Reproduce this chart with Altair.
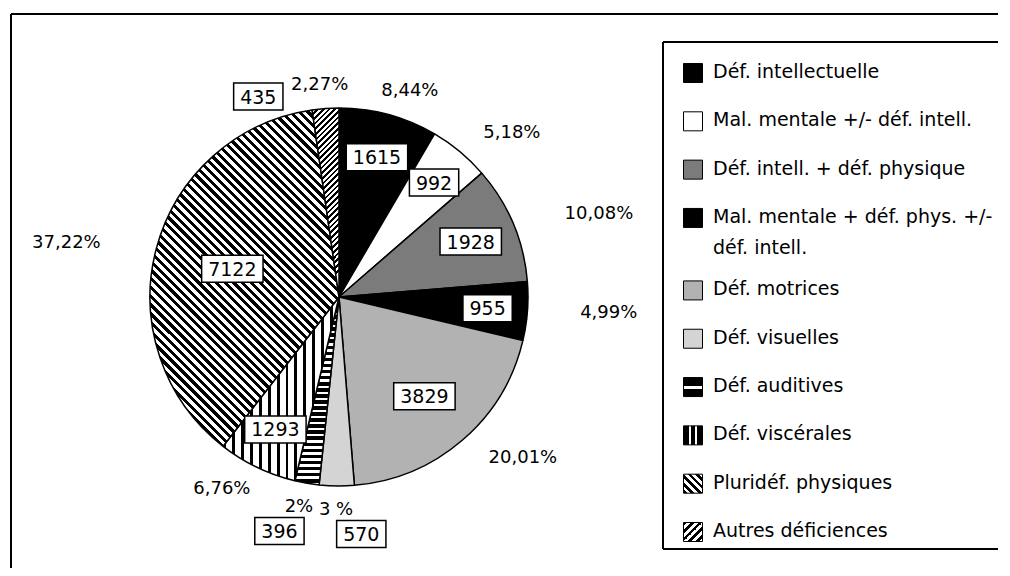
import altair as alt
import pandas as pd

# ---------------- data ----------------
categories = [
    "Déf. intellectuelle",
    "Mal. mentale +/- déf. intell.",
    "Déf. intell. + déf. physique",
    "Mal. mentale + déf. phys. +/- déf. intell.",
    "Déf. motrices",
    "Déf. visuelles",
    "Déf. auditives",
    "Déf. viscérales",
    "Pluridéf. physiques",
    "Autres déficiences",
]
legend_labels = [
    "Déf. intellectuelle",
    "Mal. mentale +/- déf. intell.",
    "Déf. intell. + déf. physique",
    "Mal. mentale + déf. phys. +/-\ndéf. intell.",
    "Déf. motrices",
    "Déf. visuelles",
    "Déf. auditives",
    "Déf. viscérales",
    "Pluridéf. physiques",
    "Autres déficiences",
]
values = [1615, 992, 1928, 955, 3829, 570, 396, 1293, 7122, 435]
pct_labels = ["8,44%", "5,18%", "10,08%", "4,99%", "20,01%", "3 %", "2%", "6,76%", "37,22%", "2,27%"]

df = pd.DataFrame({
    "category": categories,
    "label": legend_labels,
    "value": values,
    "pct": pct_labels,
    "order": list(range(len(categories))),
})
# legend rows: a two-line label takes one and a half rows
slots, acc = [], 0.0
for lab in legend_labels:
    slots.append(acc)
    acc += 1 + 0.5 * (lab.count("\n"))
df["slot"] = slots

# ---------------- styles (hatch patterns as hard-stop gradients) ----------------
def stripes(n, frac, x1, y1, x2, y2, c1="black", c2="white"):
    stops = []
    for i in range(n):
        a, b, c = i / n, (i + frac) / n, (i + 1) / n
        stops += [
            {"offset": round(a, 5), "color": c1},
            {"offset": round(b, 5), "color": c1},
            {"offset": round(b, 5), "color": c2},
            {"offset": round(c, 5), "color": c2},
        ]
    return {"gradient": "linear", "x1": x1, "y1": y1, "x2": x2, "y2": y2, "stops": stops}


def bands(cuts, x1, y1, x2, y2):
    stops = []
    for a, b, col in cuts:
        stops += [{"offset": a, "color": col}, {"offset": b, "color": col}]
    return {"gradient": "linear", "x1": x1, "y1": y1, "x2": x2, "y2": y2, "stops": stops}


pie_styles = [
    "black",
    "white",
    "#7b7b7b",
    "black",
    "#b2b2b2",
    "#d4d4d4",
    stripes(31, 0.6, 0, 0, 0, 1),
    stripes(13, 0.33, 0, 0, 1, 0),
    stripes(90, 0.5, 0, 1, 1, -0.78),
    stripes(34, 0.5, 0, 0, 0.143, 1),
]
legend_styles = [
    "black",
    "white",
    "#7b7b7b",
    "black",
    "#b2b2b2",
    "#d4d4d4",
    bands([(0, 0.42, "black"), (0.42, 0.58, "white"), (0.58, 1, "black")], 0, 0, 0, 1),
    bands([(0, 0.27, "black"), (0.27, 0.39, "white"), (0.39, 0.61, "black"),
           (0.61, 0.73, "white"), (0.73, 1, "black")], 0, 0, 1, 0),
    stripes(5, 0.5, 0, 1, 1, 0),
    stripes(5, 0.5, 0, 0, 1, 1),
]


def fill_condition(styles):
    w = None
    for cat, st in zip(categories, styles):
        pred = alt.datum.category == cat
        w = alt.when(pred).then(alt.value(st)) if w is None else w.when(pred).then(alt.value(st))
    return w.otherwise(alt.value("white"))


# ---------------- layout constants ----------------
W, H = 990, 560
CX, CY, R = 331, 289, 189
LR = 213
FONT = "DejaVu Sans"

base = (
    alt.Chart(df)
    .transform_joinaggregate(total="sum(value)")
    .transform_window(
        window=[
            alt.WindowFieldDef(op="sum", field="value", **{"as": "cum"}),
            alt.WindowFieldDef(op="lag", field="value", **{"as": "prev"}),
        ],
        sort=[alt.SortField("order", order="ascending")],
        frame=[None, 0],
    )
    .transform_calculate(
        share="datum.value / datum.total",
        mid="(datum.cum - datum.value / 2) / datum.total * 2 * PI",
    )
    .transform_calculate(
        pw="length(datum.pct) * 11.5",
        small="datum.share < 0.04",
        top="cos(datum.mid) >= 0",
        sgn="(isValid(datum.prev) && datum.prev / datum.total < 0.04 ? 1 : -1) * (cos(datum.mid) >= 0 ? 1 : -1)",
        vr="155 - 120 * datum.share",
        vw="length(toString(datum.value)) * 12.1 + 13",
    )
    .transform_calculate(
        px=f"{CX} + sin(datum.mid) * ({LR} + datum.pw)",
        py=f"{CY} - cos(datum.mid) * {LR}",
    )
    .transform_calculate(
        vx=(f"datum.small ? datum.px + datum.sgn * (datum.top ? datum.pw / 2 + datum.vw / 2 + 8 : datum.pw / 2 + 8)"
            f" : {CX} + datum.vr * sin(datum.mid)"),
        vy=f"datum.small ? datum.py + (datum.top ? 12 : 24) : {CY} - datum.vr * cos(datum.mid)",
    )
    .transform_calculate(
        bx0="datum.vx - datum.vw / 2",
        bx1="datum.vx + datum.vw / 2",
        by0="datum.vy - 13.5",
        by1="datum.vy + 13.5",
    )
)

one = alt.Chart(pd.DataFrame({"k": [0]}))
rule = dict(color="black", strokeWidth=2)
frame_top = one.mark_rule(**rule).encode(x=alt.value(3), x2=alt.value(1030), y=alt.value(6))
frame_left = one.mark_rule(**rule).encode(x=alt.value(3), y=alt.value(6), y2=alt.value(600))
box_top = one.mark_rule(**rule).encode(x=alt.value(655), x2=alt.value(1030), y=alt.value(34))
box_bottom = one.mark_rule(**rule).encode(x=alt.value(655), x2=alt.value(1030), y=alt.value(541))
box_left = one.mark_rule(**rule).encode(x=alt.value(655), y=alt.value(34), y2=alt.value(541))

pie = base.mark_arc(outerRadius=R, stroke="black", strokeWidth=1.5, strokeJoin="bevel").encode(
    theta=alt.Theta("value:Q", stack=True),
    order=alt.Order("order:Q"),
    fill=fill_condition(pie_styles),
    x=alt.value(CX),
    y=alt.value(CY),
)

pct_text = base.mark_text(font=FONT, fontSize=18, color="black", align="center", baseline="middle").encode(
    x=alt.X("px:Q", scale=None),
    y=alt.Y("py:Q", scale=None),
    text="pct:N",
)

val_box = base.mark_rect(fill="white", stroke="black", strokeWidth=1.5).encode(
    x=alt.X("bx0:Q", scale=None),
    x2="bx1:Q",
    y=alt.Y("by0:Q", scale=None),
    y2="by1:Q",
)
val_text = base.mark_text(font=FONT, fontSize=19, color="black", align="center", baseline="middle", dy=1).encode(
    x=alt.X("vx:Q", scale=None),
    y=alt.Y("vy:Q", scale=None),
    text="value:Q",
)

ly = alt.Y("slot:Q", scale=alt.Scale(domain=[0, max(slots)], range=[65, 524]), axis=None)
leg_sw = alt.Chart(df).mark_square(size=361, stroke="black", strokeWidth=1, opacity=1).encode(
    x=alt.value(685),
    y=ly,
    fill=fill_condition(legend_styles),
)
leg_text = alt.Chart(df).mark_text(
    font=FONT, fontSize=19, color="black", align="left", baseline="top", dy=-10,
    lineBreak="\n", lineHeight=31,
).encode(
    x=alt.value(705),
    y=ly,
    text="label:N",
)

chart = (
    alt.layer(frame_top, frame_left, box_top, box_bottom, box_left,
              pie, pct_text, val_box, val_text, leg_sw, leg_text)
    .resolve_scale(x="independent", y="independent")
    .properties(width=W, height=H, autosize=alt.AutoSizeParams(type="none"), padding=0)
    .configure_view(stroke=None)
)

chart.save("out.html", embed_options={"renderer": "svg", "actions": False})
